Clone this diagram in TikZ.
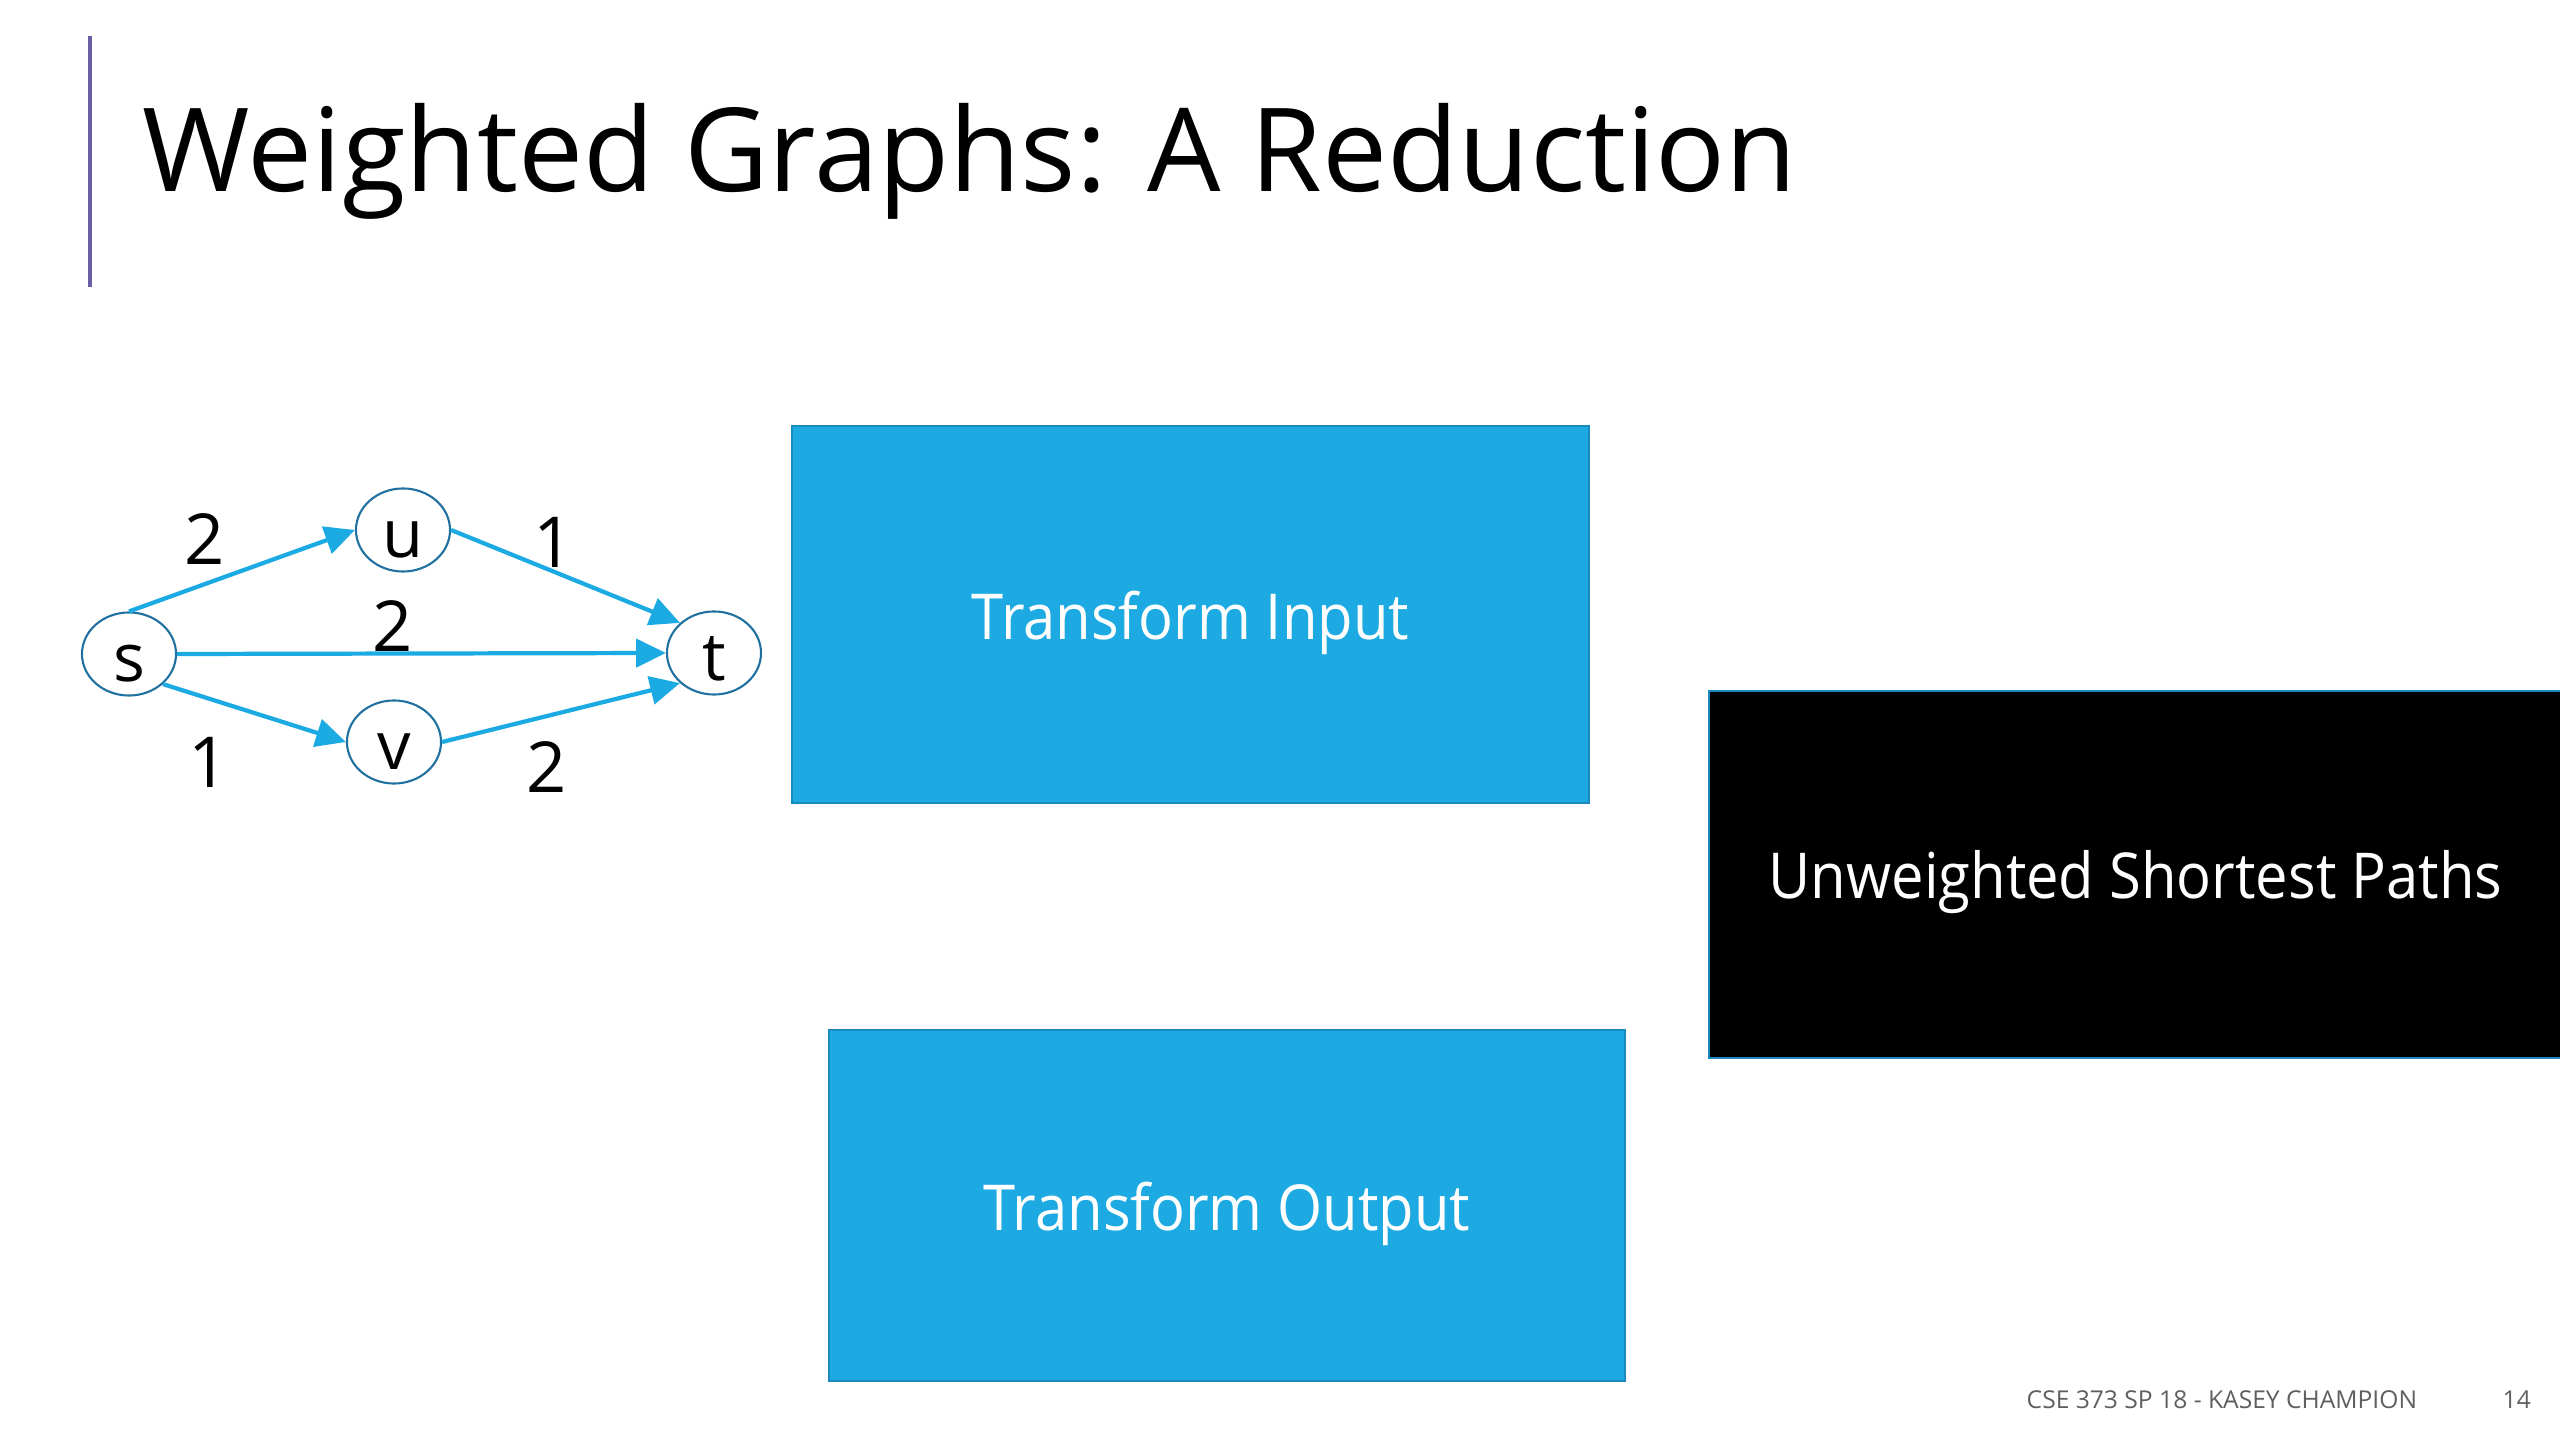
\documentclass[tikz,border=0pt]{standalone}
\usepackage{fontspec}
\setmainfont{Open Sans}
\newfontfamily\boxfont[FakeStretch=0.915]{Open Sans}
\usetikzlibrary{shapes.geometric,arrows.meta}
\definecolor{boxblue}{RGB}{29,170,226}
\definecolor{boxedge}{RGB}{24,138,192}
\definecolor{edgeblue}{RGB}{27,170,226}
\definecolor{circedge}{RGB}{32,112,160}
\definecolor{barpurple}{RGB}{107,94,165}
\definecolor{footgray}{RGB}{95,95,95}
\tikzset{
  vert/.style={ellipse, draw=circedge, line width=0.6pt, minimum width=0.94cm,
    minimum height=0.83cm, inner sep=0pt, font=\fontsize{19}{19}\selectfont},
  wedge/.style={draw=edgeblue, line width=1.2pt, -{Triangle[length=8.5pt,width=8pt]}},
  wlabel/.style={font=\fontsize{20}{20}\selectfont, inner sep=0pt, anchor=base},
  bluebox/.style={rectangle, fill=boxblue, draw=boxedge, line width=0.5pt,
    text=white, inner sep=0pt, font=\boxfont\fontsize{18}{18}\selectfont},
  blackbox/.style={rectangle, fill=black, draw=boxedge, line width=0.6pt,
    text=white, inner sep=0pt, font=\boxfont\fontsize{18}{18}\selectfont},
  foot/.style={font=\fontsize{7}{7}\selectfont, text=footgray, inner sep=0pt, anchor=base west}
}
\newcommand{\lowr}[2]{\raisebox{-#1}[0pt][0pt]{#2}}
\begin{document}
\begin{tikzpicture}[x=0.01cm,y=-0.01cm]
\useasboundingbox (0,0) rectangle (2560,1440);
% title bar and title
\coordinate (bartop) at (90,36);
\coordinate (barbot) at (90,287);
\draw[barpurple, line width=1.1pt] (bartop) -- (barbot);
\node[anchor=base west, inner sep=0pt, font=\fontsize{33}{33}\selectfont] (title) at (142,192) {Weighted Graphs: A Reduction};
% graph
\node[vert] (s) at (129,654) {\lowr{7.9pt}{s}};
\node[vert] (u) at (403,530) {\lowr{7.9pt}{u}};
\node[vert] (v) at (394,742) {\lowr{7.9pt}{v}};
\node[vert] (t) at (714,653) {\lowr{7.9pt}{t}};
\draw[wedge] (s.north) -- (u.west);
\draw[wedge] (s.east) -- (t.west);
\draw[wedge] (s.south east) -- (v.west);
\draw[wedge] (u.east) -- (t.north west);
\draw[wedge] (v.east) -- (t.south west);
\node[wlabel] (l1) at (205,565) {2};
\node[wlabel] (l2) at (554,568) {1};
\node[wlabel] (l3) at (393,652) {2};
\node[wlabel] (l4) at (209,788) {1};
\node[wlabel] (l5) at (547,793) {2};
% boxes
\node[bluebox, minimum width=7.97cm, minimum height=3.77cm] (tin) at (1190.5,614.5) {\lowr{7pt}{Transform Input}};
\node[blackbox, minimum width=8.53cm, minimum height=3.67cm] (usp) at (2135.5,874.5) {\lowr{6.7pt}{Unweighted Shortest Paths}};
\node[bluebox, minimum width=7.96cm, minimum height=3.51cm] (tout) at (1227,1205.5) {\lowr{7pt}{Transform Output}};
% footer
\node[foot] (footer) at (2026,1408) {CSE 373 SP 18 - KASEY CHAMPION};
\node[foot] (pagenum) at (2502,1408) {14};
\end{tikzpicture}
\end{document}
